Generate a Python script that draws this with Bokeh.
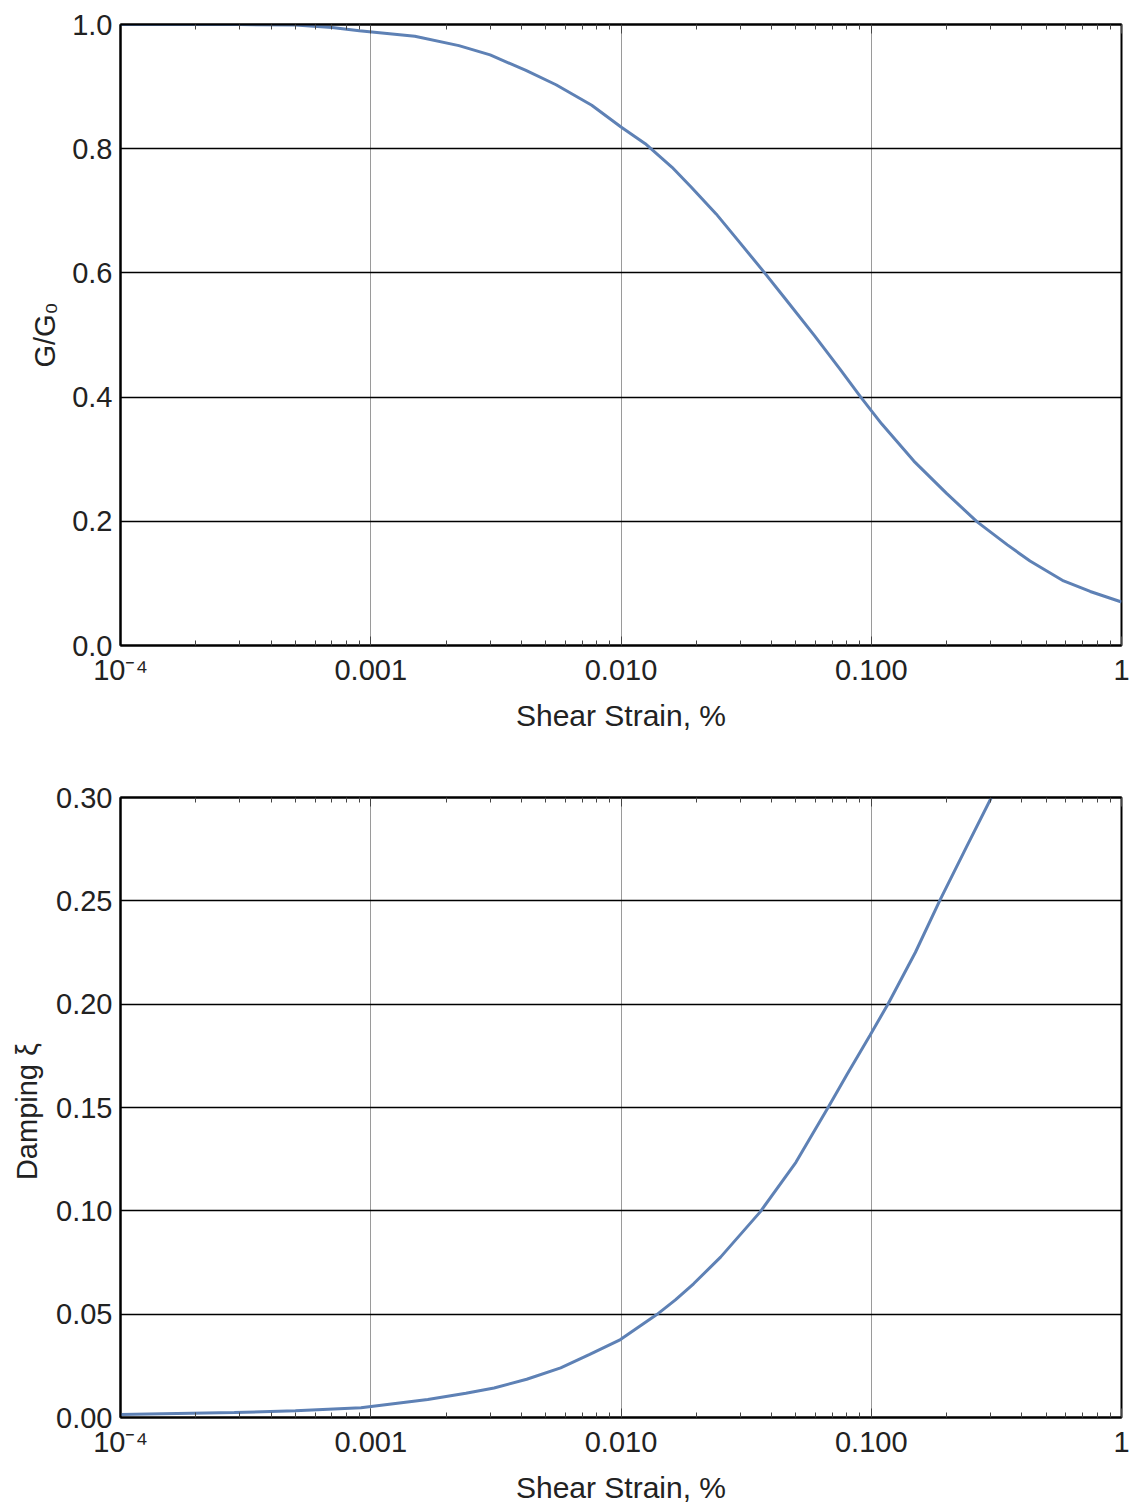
from bokeh.plotting import figure
from bokeh.models import FixedTicker, LogAxis, Range1d, PrintfTickFormatter, CustomJSTickFormatter
from bokeh.layouts import column
from bokeh.embed import file_html
from bokeh.resources import INLINE

# ---- data ----
x_ticks = [1e-4, 1e-3, 1e-2, 1e-1, 1.0]
x_tick_labels = ["10⁻⁴", "0.001", "0.010", "0.100", "1"]
x_minor = [m * d for d in [1e-4, 1e-3, 1e-2, 1e-1] for m in range(2, 10)]

strain_g = [1e-4, 3e-4, 5e-4, 7e-4, 9e-4, 1.5e-3, 2.25e-3, 3e-3, 4.17e-3, 5.5e-3,
            7.64e-3, 1e-2, 1.25e-2, 1.6e-2, 1.91e-2, 2.4e-2, 2.94e-2, 3.75e-2,
            4.5e-2, 5.93e-2, 7.5e-2, 9.08e-2, 0.11, 0.148, 0.2, 0.265, 0.35,
            0.431, 0.587, 0.75, 1.0]
g_ratio = [1.0, 1.0, 0.999, 0.995, 0.99, 0.981, 0.966, 0.951, 0.926, 0.903,
           0.870, 0.835, 0.808, 0.770, 0.738, 0.695, 0.652, 0.600,
           0.560, 0.499, 0.445, 0.400, 0.357, 0.297, 0.245, 0.199, 0.162,
           0.136, 0.104, 0.087, 0.070]
g_ticks = [0.0, 0.2, 0.4, 0.6, 0.8, 1.0]

strain_d = [1e-4, 2.85e-4, 5e-4, 9.14e-4, 1.69e-3, 2.4e-3, 3.11e-3, 4.2e-3, 5.74e-3,
            7.5e-3, 9.95e-3, 1.39e-2, 1.65e-2, 1.95e-2, 2.5e-2, 3.6e-2, 5e-2,
            6.75e-2, 8e-2, 9.89e-2, 0.117, 0.15, 0.188, 0.24, 0.302]
damping = [0.0014, 0.0024, 0.0033, 0.0047, 0.0087, 0.0117, 0.0143, 0.0185, 0.024,
           0.0305, 0.0377, 0.0498, 0.0569, 0.0647, 0.0776, 0.0995, 0.1235,
           0.1504, 0.166, 0.185, 0.2003, 0.225, 0.2502, 0.276, 0.300]
d_ticks = [0.0, 0.05, 0.10, 0.15, 0.20, 0.25, 0.30]

FONT = "Liberation Sans"
LINE_COLOR = "#5E81B5"


def make_fig(height, top, bottom, right, y_end, y_ticks, y_fmt, ylabel, ylabel_standoff):
    p = figure(width=1133, height=height, x_axis_type="log",
               x_range=Range1d(1e-4, 1.0), y_range=Range1d(0, y_end),
               output_backend="svg", toolbar_location=None,
               min_border_left=120, min_border_right=right,
               min_border_top=top, min_border_bottom=bottom)
    p.background_fill_color = "white"
    p.border_fill_color = "white"
    p.outline_line_color = "black"
    p.outline_line_width = 2

    xa = p.xaxis[0]
    xa.ticker = FixedTicker(ticks=x_ticks, minor_ticks=x_minor)
    xa.formatter = CustomJSTickFormatter(
        args=dict(tvals=x_ticks, labs=x_tick_labels),
        code="""
        let best = 0, bd = 1e9;
        for (let i = 0; i < tvals.length; i++) {
            const d = Math.abs(Math.log10(tvals[i]) - Math.log10(tick));
            if (d < bd) { bd = d; best = i; }
        }
        return labs[best];
        """)
    xa.axis_label = "Shear Strain, %"

    top_axis = LogAxis(ticker=FixedTicker(ticks=x_ticks, minor_ticks=x_minor),
                       major_label_text_color=None,
                       major_label_text_font_size="6px")
    p.add_layout(top_axis, "above")

    for ax in [xa, top_axis]:
        ax.axis_line_color = "black"
        ax.axis_line_width = 2
        ax.major_tick_in = 9
        ax.major_tick_out = 0
        ax.minor_tick_in = 5
        ax.minor_tick_out = 0
        ax.major_tick_line_color = "#444444"
        ax.minor_tick_line_color = "#444444"
        ax.major_tick_line_width = 1
        ax.minor_tick_line_width = 1

    xa.major_label_text_font = FONT
    xa.major_label_text_font_size = "29px"
    xa.major_label_text_color = "#222222"
    xa.major_label_standoff = 8
    xa.axis_label_text_font = FONT
    xa.axis_label_text_font_size = "30px"
    xa.axis_label_text_font_style = "normal"
    xa.axis_label_text_color = "#222222"
    xa.axis_label_standoff = 10

    ya = p.yaxis[0]
    ya.ticker = FixedTicker(ticks=y_ticks)
    ya.formatter = PrintfTickFormatter(format=y_fmt)
    ya.axis_label = ylabel
    ya.axis_line_color = "black"
    ya.axis_line_width = 2
    ya.major_tick_in = 0
    ya.major_tick_out = 0
    ya.minor_tick_line_color = None
    ya.major_label_text_font = FONT
    ya.major_label_text_font_size = "29px"
    ya.major_label_text_color = "#222222"
    ya.major_label_standoff = 8
    ya.axis_label_text_font = FONT
    ya.axis_label_text_font_size = "29px"
    ya.axis_label_text_font_style = "normal"
    ya.axis_label_text_color = "#222222"
    ya.axis_label_standoff = ylabel_standoff

    p.xgrid.grid_line_color = "#9a9a9a"
    p.xgrid.grid_line_width = 1
    p.ygrid.grid_line_color = "black"
    p.ygrid.grid_line_width = 1.5
    return p


p1 = make_fig(765, 24, 120, 5, 1.0, g_ticks, "%.1f", "G/G₀", 8)
p1.line(strain_g, g_ratio, line_color=LINE_COLOR, line_width=3)

p2 = make_fig(741, 32, 88, 12, 0.30, d_ticks, "%.2f", "Damping  ξ", 10)
p2.line(strain_d, damping, line_color=LINE_COLOR, line_width=3)

layout = column(p1, p2)
open("out.html", "w").write(file_html(layout, INLINE))
